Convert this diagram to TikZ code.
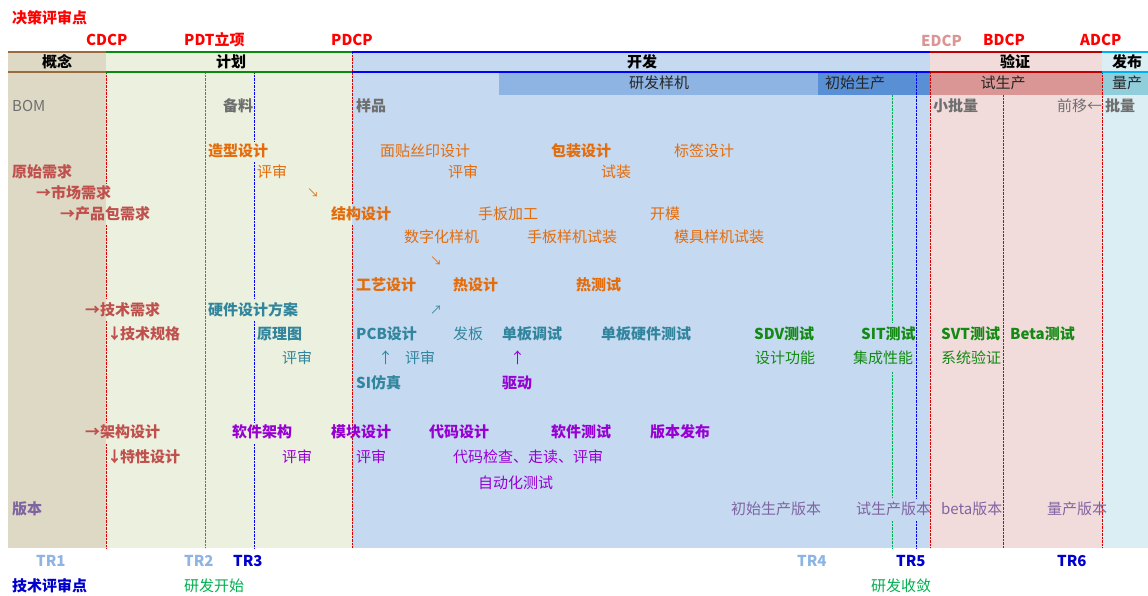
\documentclass[tikz,border=0pt]{standalone}
\usepackage{fontspec}
\setmainfont{Noto Sans CJK SC}
\usepackage{tikz}

\definecolor{conceptbg}{HTML}{DDD9C4}
\definecolor{planbg}{HTML}{EBF1DE}
\definecolor{devbg}{HTML}{C5D9F1}
\definecolor{verbg}{HTML}{F2DCDB}
\definecolor{relbg}{HTML}{DAEEF3}
\definecolor{protobg}{HTML}{8DB4E2}
\definecolor{initbg}{HTML}{588FD5}
\definecolor{trialbg}{HTML}{D99694}
\definecolor{massbg}{HTML}{92CDDC}
\definecolor{brownline}{HTML}{9A6B3C}
\definecolor{greenline}{HTML}{0A8A0A}
\definecolor{blueline}{HTML}{0000FF}
\definecolor{redline}{HTML}{C00000}
\definecolor{cyanline}{HTML}{00B0F0}
\definecolor{dcpred}{HTML}{FF0000}
\definecolor{edcpred}{HTML}{D99694}
\definecolor{reqred}{HTML}{C0504D}
\definecolor{mechorange}{HTML}{E46C0A}
\definecolor{hwteal}{HTML}{31859C}
\definecolor{testgreen}{HTML}{138A13}
\definecolor{swpurple}{HTML}{9600D2}
\definecolor{verpurple}{HTML}{8064A2}
\definecolor{graytxt}{HTML}{6F6F6F}
\definecolor{trlight}{HTML}{8DB4E2}
\definecolor{trdark}{HTML}{0000CC}
\definecolor{startgreen}{HTML}{00B050}

\newcommand{\txtsize}{\fontsize{15}{18}\selectfont}
\newcommand{\downarr}{↓\kern-2pt}

\tikzstyle{txt} = [anchor=west, inner sep=0pt, font=\txtsize]
\tikzstyle{btxt} = [anchor=west, inner sep=0pt, font=\txtsize\bfseries]
\tikzstyle{smallarr} = [anchor=west, inner sep=0pt, font=\fontsize{12}{14}\selectfont]
\tikzstyle{phase} = [inner sep=0pt, font=\txtsize\bfseries, text=black]
\tikzstyle{subphase} = [inner sep=0pt, font=\txtsize, text=black!85]
\tikzstyle{rdot} = [densely dotted, thin, red!85!black]
\tikzstyle{gdot} = [densely dotted, thin, startgreen]
\tikzstyle{bdot} = [densely dotted, thin, blueline]
\tikzstyle{hline} = [line width=2pt]

\begin{document}
\begin{tikzpicture}[x=1pt,y=-1pt]
\useasboundingbox (0,0) rectangle (1148,595);
% phase columns
\fill[conceptbg] (8,52) rectangle (106,548);
\fill[planbg] (106,52) rectangle (352,548);
\fill[devbg] (352,52) rectangle (930,548);
\fill[verbg] (930,52) rectangle (1102,548);
\fill[relbg] (1102,52) rectangle (1148,548);
% sub phases
\fill[protobg] (499,73) rectangle (818,95);
\fill[initbg] (818,73) rectangle (930,95);
\fill[trialbg] (930,73) rectangle (1102,95);
\fill[massbg] (1102,73) rectangle (1148,95);
% decision and review lines
\draw[rdot] (106,72) -- (106,183) (106,225) -- (106,299) (106,321) -- (106,422) (106,444) -- (106,548);
\draw[gdot] (205,72) -- (205,548);
\draw[bdot] (254,72) -- (254,141) (254,162) -- (254,299) (254,321) -- (254,422) (254,444) -- (254,548);
\draw[rdot] (352,52) -- (352,204) (352,225) -- (352,548);
\draw[gdot] (892,95) -- (892,322) (892,372) -- (892,498) (892,521) -- (892,548);
\draw[bdot] (916,72) -- (916,498) (916,521) -- (916,548);
\draw[rdot] (930,72) -- (930,548);
\draw[rdot] (1003,95) -- (1003,548);
\draw[rdot] (1102,72) -- (1102,548);
% header lines
\draw[hline, brownline] (8,52) -- (106,52) (8,72) -- (106,72);
\draw[hline, greenline] (106,52) -- (352,52) (106,72) -- (352,72);
\draw[hline, blueline] (352,52) -- (930,52) (352,72) -- (930,72);
\draw[hline, redline] (930,52) -- (1102,52) (930,72) -- (1102,72);
\draw[hline, cyanline] (1102,52) -- (1148,52) (1102,72) -- (1148,72);

% decision points
\node[btxt, text=dcpred] (dcp) at (12,18) {决策评审点};
\node[btxt, text=dcpred] (cdcp) at (86,40) {CDCP};
\node[btxt, text=dcpred] (pdt) at (184,40) {PDT立项};
\node[btxt, text=dcpred] (pdcp) at (331,40) {PDCP};
\node[btxt, text=edcpred] (edcp) at (921,41) {EDCP};
\node[btxt, text=dcpred] (bdcp) at (983,40) {BDCP};
\node[btxt, text=dcpred] (adcp) at (1080,40) {ADCP};

% phases
\node[phase] (concept) at (57,62) {概念};
\node[phase] (plan) at (231,62) {计划};
\node[phase] (develop) at (642,62) {开发};
\node[phase] (verify) at (1015,62) {验证};
\node[phase] (release) at (1127,62) {发布};
\node[subphase] (proto) at (659,83) {研发样机};
\node[subphase] (initprod) at (855,83) {初始生产};
\node[subphase] (trialprod) at (1003,83) {试生产};
\node[subphase] (massprod) at (1127,83) {量产};

% bom
\node[txt, text=graytxt] (bom) at (12,106) {BOM};
\node[btxt, text=graytxt] (stock) at (223,106) {备料};
\node[btxt, text=graytxt] (sample) at (356,106) {样品};
\node[btxt, text=graytxt] (smallbatch) at (933,106) {小批量};
\node[txt, text=graytxt] (moveup) at (1057,106) {前移←};
\node[btxt, text=graytxt] (batch) at (1105,106) {批量};

% requirements
\node[btxt, text=reqred] (rawreq) at (12,172) {原始需求};
\node[btxt, text=reqred] (marketreq) at (36,193) {→市场需求};
\node[btxt, text=reqred] (pkgreq) at (60,214) {→产品包需求};
\node[btxt, text=reqred] (techreq) at (85,310) {→技术需求};
\node[btxt, text=reqred] (techspec) at (107,334) {\downarr 技术规格};
\node[btxt, text=reqred] (archdes) at (85,432) {→架构设计};
\node[btxt, text=reqred] (featdes) at (107,457) {\downarr 特性设计};

% mechanics
\node[btxt, text=mechorange] (styling) at (208,151) {造型设计};
\node[txt, text=mechorange] (stylingrev) at (257,172) {评审};
\node[txt, text=mechorange] (silk) at (380,151) {面贴丝印设计};
\node[txt, text=mechorange] (silkrev) at (448,172) {评审};
\node[btxt, text=mechorange] (pack) at (551,151) {包装设计};
\node[txt, text=mechorange] (packfit) at (601,172) {试装};
\node[txt, text=mechorange] (label) at (674,151) {标签设计};
\node[smallarr, text=mechorange] (arrowa) at (307,193) {↘};
\node[btxt, text=mechorange] (struct) at (331,214) {结构设计};
\node[txt, text=mechorange] (handmade) at (478,214) {手板加工};
\node[txt, text=mechorange] (tooling) at (650,214) {开模};
\node[txt, text=mechorange] (digital) at (404,237) {数字化样机};
\node[txt, text=mechorange] (handfit) at (527,237) {手板样机试装};
\node[txt, text=mechorange] (toolfit) at (674,237) {模具样机试装};
\node[smallarr, text=mechorange] (arrowb) at (430,261) {↘};
\node[btxt, text=mechorange] (process) at (356,285) {工艺设计};
\node[btxt, text=mechorange] (thermal) at (453,285) {热设计};
\node[btxt, text=mechorange] (thermtest) at (576,285) {热测试};

% hardware
\node[btxt, text=hwteal] (hwplan) at (208,310) {硬件设计方案};
\node[smallarr, text=hwteal] (arrowc) at (430,310) {↗};
\node[btxt, text=hwteal] (schem) at (257,334) {原理图};
\node[txt, text=hwteal] (schemrev) at (282,358) {评审};
\node[btxt, text=hwteal] (pcb) at (356,334) {PCB设计};
\node[txt, text=hwteal] (arrowd) at (378,358) {↑};
\node[txt, text=hwteal] (pcbrev) at (405,358) {评审};
\node[btxt, text=hwteal] (sisim) at (356,383) {SI仿真};
\node[txt, text=hwteal] (board) at (453,334) {发板};
\node[btxt, text=hwteal] (debug) at (502,334) {单板调试};
\node[btxt, text=hwteal] (hwtest) at (601,334) {单板硬件测试};
\node[txt, text=swpurple] (arrowe) at (510,358) {↑};
\node[btxt, text=swpurple] (driver) at (502,383) {驱动};

% tests
\node[btxt, text=testgreen] (sdv) at (754,334) {SDV测试};
\node[txt, text=testgreen] (sdvnote) at (755,358) {设计功能};
\node[btxt, text=testgreen] (sit) at (861,334) {SIT测试};
\node[txt, text=testgreen] (sitnote) at (853,358) {集成性能};
\node[btxt, text=testgreen] (svt) at (941,334) {SVT测试};
\node[txt, text=testgreen] (svtnote) at (941,358) {系统验证};
\node[btxt, text=testgreen] (beta) at (1010,334) {Beta测试};

% software
\node[btxt, text=swpurple] (swarch) at (232,432) {软件架构};
\node[txt, text=swpurple] (swarchrev) at (282,457) {评审};
\node[btxt, text=swpurple] (module) at (331,432) {模块设计};
\node[txt, text=swpurple] (modulerev) at (356,457) {评审};
\node[btxt, text=swpurple] (coding) at (429,432) {代码设计};
\node[txt, text=swpurple] (codereview) at (453,457) {代码检查、走读、评审};
\node[txt, text=swpurple] (autotest) at (478,483) {自动化测试};
\node[btxt, text=swpurple] (swtest) at (551,432) {软件测试};
\node[btxt, text=swpurple] (swrelease) at (650,432) {版本发布};

% versions
\node[btxt, text=verpurple] (version) at (12,509) {版本};
\node[txt, text=verpurple] (initver) at (731,509) {初始生产版本};
\node[txt, text=verpurple] (trialver) at (856,509) {试生产版本};
\node[txt, text=verpurple] (betaver) at (941,509) {beta版本};
\node[txt, text=verpurple] (massver) at (1047,509) {量产版本};

% technical reviews
\node[btxt, text=trlight] (tr1) at (36,561) {TR1};
\node[btxt, text=trlight] (tr2) at (184,561) {TR2};
\node[btxt, text=trdark] (tr3) at (233,561) {TR3};
\node[btxt, text=trlight] (tr4) at (797,561) {TR4};
\node[btxt, text=trdark] (tr5) at (896,561) {TR5};
\node[btxt, text=trdark] (tr6) at (1057,561) {TR6};
\node[btxt, text=trdark] (trpoint) at (12,586) {技术评审点};
\node[txt, text=startgreen] (devstart) at (184,586) {研发开始};
\node[txt, text=startgreen] (devconv) at (871,586) {研发收敛};
\end{tikzpicture}
\end{document}
